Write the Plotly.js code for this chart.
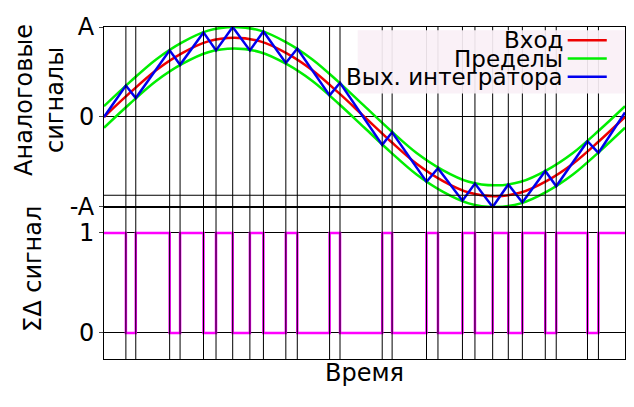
<!DOCTYPE html>
<html><head><meta charset="utf-8">
<script src="https://cdn.plot.ly/plotly-3.0.1.min.js"></script>
<style>body{margin:0}#c{width:634px;height:407px}</style>
</head><body><div id="c"></div>
<script>
const sineT = [0,.05,.1,.15,.2,.25,.3,.35,.4,.45,.5,.55,.6,.65,.7,.75,.8,.85,.9,.95,1];
const inputVals = [0,.27,.52,.71,.84,.88,.84,.71,.52,.27,0,-.27,-.52,-.71,-.84,-.88,-.84,-.71,-.52,-.27,0];
const upperVals = [.12,.39,.64,.83,.96,1,.96,.83,.64,.39,.12,-.15,-.40,-.59,-.72,-.76,-.72,-.59,-.40,-.15,.12];
const lowerVals = [-.12,.15,.40,.59,.72,.76,.72,.59,.40,.15,-.12,-.39,-.64,-.83,-.96,-1,-.96,-.83,-.64,-.39,-.12];
const switchT = [.042,.061,.126,.146,.191,.215,.247,.280,.306,.349,.371,.433,.453,.534,.553,.619,.641,.688,.712,.746,.776,.803,.847,.868,.928,.949];
const integT = [0,.042,.061,.126,.146,.191,.215,.247,.280,.306,.349,.371,.433,.453,.534,.553,.619,.641,.688,.712,.746,.776,.803,.847,.868,.928,.949,1];
const integVals = [0,.35,.21,.74,.58,.94,.74,1.0,.74,.95,.60,.76,.24,.38,-.31,-.17,-.72,-.57,-.93,-.74,-1.0,-.75,-.95,-.60,-.77,-.27,-.40,.05];
const bitT = [0,.042,.061,.126,.146,.191,.215,.247,.280,.306,.349,.371,.433,.453,.534,.553,.619,.641,.688,.712,.746,.776,.803,.847,.868,.928,.949,1];
const bitVals = [1,0,1,0,1,0,1,0,1,0,1,0,1,0,1,0,1,0,1,0,1,0,1,0,1,0,1,1];

const F = "DejaVu Sans, sans-serif";
const traces = [
  {x:sineT, y:upperVals, xaxis:"x", yaxis:"y", mode:"lines", line:{color:"#00ee00", width:2.5, shape:"spline"}},
  {x:sineT, y:lowerVals, xaxis:"x", yaxis:"y", mode:"lines", line:{color:"#00ee00", width:2.5, shape:"spline"}},
  {x:sineT, y:inputVals, xaxis:"x", yaxis:"y", mode:"lines", line:{color:"#ee0000", width:2.5, shape:"spline"}},
  {x:integT, y:integVals, xaxis:"x", yaxis:"y", mode:"lines", line:{color:"#0000ee", width:2.5}},
  {x:bitT, y:bitVals, xaxis:"x2", yaxis:"y2", mode:"lines", line:{color:"#ff00ff", width:2.5, shape:"hv"}}
];

const shapes = switchT.map(t => ({type:"line", xref:"x", yref:"paper", x0:t, x1:t, y0:0, y1:1, line:{color:"#000", width:1}}));
shapes.push({type:"line", xref:"paper", yref:"y", x0:0, x1:1, y0:-0.87, y1:-0.87, line:{color:"#000", width:1}});
// legend
shapes.push({type:"rect", xref:"paper", yref:"paper", x0:0.487, x1:1, y0:0.80, y1:0.99, fillcolor:"rgba(250,240,246,0.92)", line:{width:0}, layer:"above"});
const legNames = ["Вход","Пределы","Вых. интегратора"];
const legColors = ["#ee0000","#00ee00","#0000ee"];
const legY = [0.96, 0.905, 0.85];
const annotations = [];
legNames.forEach((n,i) => {
  shapes.push({type:"line", xref:"paper", yref:"paper", x0:0.89, x1:0.965, y0:legY[i], y1:legY[i], line:{color:legColors[i], width:2.5}, layer:"above"});
  annotations.push({xref:"paper", yref:"paper", x:0.885, y:legY[i], xanchor:"right", yanchor:"middle", text:n, showarrow:false, font:{family:F, size:23, color:"#000"}});
});
annotations.push({xref:"paper", yref:"paper", x:-0.125, y:0.78, xanchor:"center", yanchor:"middle", text:"Аналоговые<br>сигналы", textangle:-90, showarrow:false, font:{family:F, size:24, color:"#000"}});
annotations.push({xref:"paper", yref:"paper", x:-0.135, y:0.27, xanchor:"center", yanchor:"middle", text:"ΣΔ сигнал", textangle:-90, showarrow:false, font:{family:F, size:24, color:"#000"}});

const layout = {
  width:634, height:407, margin:{l:104, r:9, t:27, b:48},
  paper_bgcolor:"#fff", plot_bgcolor:"#fff", showlegend:false,
  font:{family:F, size:24, color:"#000"},
  xaxis:{domain:[0,1], range:[0,1], anchor:"y", showticklabels:false, showgrid:false, zeroline:false, showline:true, linecolor:"#000", linewidth:1, mirror:true},
  yaxis:{domain:[0.458,1], range:[-1,1], tickvals:[1,0,-1], ticktext:["A","0","-A"], showgrid:true, gridcolor:"#000", gridwidth:1, zeroline:false, showline:true, linecolor:"#000", mirror:true, ticks:"outside", ticklen:4},
  xaxis2:{domain:[0,1], range:[0,1], anchor:"y2", showticklabels:false, showgrid:false, zeroline:false, showline:true, linecolor:"#000", mirror:true, title:{text:"Время", font:{family:F, size:24}, standoff:5}},
  yaxis2:{domain:[0,0.458], range:[-0.26,1.26], tickvals:[1,0], ticktext:["1","0"], showgrid:true, gridcolor:"#000", gridwidth:1, zeroline:false, showline:true, linecolor:"#000", mirror:true, ticks:"outside", ticklen:4},
  shapes, annotations
};
Plotly.newPlot("c", traces, layout, {displayModeBar:false, staticPlot:true});
</script></body></html>
